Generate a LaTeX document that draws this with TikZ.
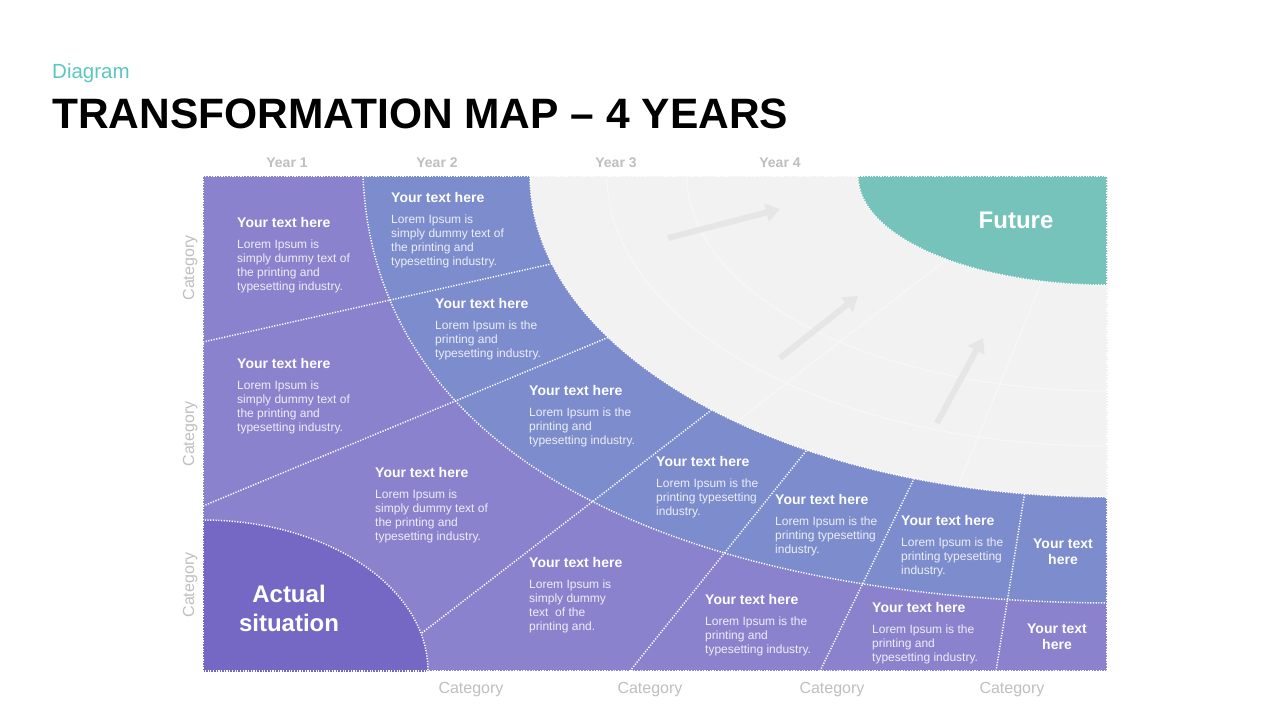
\documentclass[tikz,border=0pt]{standalone}
\usepackage{fontspec}
\setmainfont{Liberation Sans}
\usetikzlibrary{arrows.meta}
\definecolor{cpurple}{HTML}{8A82CC}
\definecolor{cblue}{HTML}{7C8CCC}
\definecolor{cact}{HTML}{7468C4}
\definecolor{cteal}{HTML}{76C3BB}
\definecolor{cgrey}{HTML}{F2F2F2}
\definecolor{carrow}{HTML}{E6E6E6}
\definecolor{clabel}{HTML}{BFBFBF}
\definecolor{cdiag}{HTML}{5BC8BF}
\definecolor{cbody}{HTML}{EEEEF8}
\newcommand\tblock[5]{%
  \node[hd, anchor=base west] (#1h) at (#2,#3) {#4};
  \foreach \ln [count=\i] in {#5} {\node[bd, anchor=base west] (#1l\i) at (#2,#3+7+14*\i) {\ln};}
}
\begin{document}
\begin{tikzpicture}[x=1pt,y=-1pt,
  dotline/.style={draw=white, line width=1.5pt, dash pattern=on 1.2pt off 1.5pt},
  gridline/.style={draw=white, line width=1pt, opacity=0.45},
  hd/.style={inner sep=0pt, text=white, font=\bfseries\fontsize{14}{16}\selectfont},
  bd/.style={inner sep=0pt, text=cbody, font=\fontsize{12}{14}\selectfont},
  big/.style={inner sep=0pt, text=white, align=center, font=\bfseries\fontsize{24}{29}\selectfont},
  small/.style={inner sep=0pt, text=white, align=center, font=\bfseries\fontsize{14}{16}\selectfont},
  yearlab/.style={inner sep=0pt, text=clabel, font=\bfseries\fontsize{14}{16}\selectfont},
  catlab/.style={inner sep=0pt, text=clabel, font=\fontsize{16}{18}\selectfont},
  deco/.style={draw=carrow, line width=6pt, -{Triangle[width=18pt,length=14pt]}}
]
\useasboundingbox (0,0) rectangle (1280,720);
\fill[white] (0,0) rectangle (1280,720);

% title
\node[anchor=base west, inner sep=0pt, text=cdiag, font=\fontsize{20.5}{24}\selectfont] (diag) at (52,78) {Diagram};
\node[anchor=base west, inner sep=0pt, font=\bfseries\fontsize{42.5}{48}\selectfont] (title) at (52,128) {TRANSFORMATION MAP – 4 YEARS};

\coordinate (NW) at (203,176);
\coordinate (NE) at (1107,176);
\coordinate (SW) at (203,671);
\coordinate (SE) at (1107,671);

\begin{scope}
  \clip (NW) rectangle (SE);
  \fill[cpurple] (NW) rectangle (SE);
  \fill[cblue] (363,176) .. controls (375,470) and (700,600) .. (1107,603) -- (NE) -- cycle;
  % separators
  \coordinate (s2a) at (203,342);  \coordinate (s2b) at (600,253);
  \coordinate (s3a) at (203,506);  \coordinate (s3b) at (650,320);
  \coordinate (s4a) at (392,656);  \coordinate (s4b) at (740,388);
  \coordinate (s5a) at (630,671);  \coordinate (s5b) at (830,421);
  \coordinate (s6a) at (820,671);  \coordinate (s6b) at (930,446);
  \coordinate (s7a) at (996,671);  \coordinate (s7b) at (1030,460);
  \draw[dotline] (s2a) -- (s2b);
  \draw[dotline] (s3a) -- (s3b);
  \draw[dotline] (s4a) -- (s4b);
  \draw[dotline] (s5a) -- (s5b);
  \draw[dotline] (s6a) -- (s6b);
  \draw[dotline] (s7a) -- (s7b);
  \draw[dotline] (363,176) .. controls (375,470) and (700,600) .. (1107,603);
  % actual situation
  \fill[cact] (SW) ellipse [x radius=225, y radius=151];
  \draw[dotline] (SW) ellipse [x radius=225, y radius=151];
  % grey future zone
  \fill[cgrey] (NE) ellipse [x radius=577, y radius=321];
  \draw[gridline] (NE) ellipse [x radius=420, y radius=215];
  \draw[gridline] (NE) ellipse [x radius=500, y radius=270];
  \draw[gridline] (1042,281) -- (958,486);
  \draw[gridline] (947,259) -- (736,422);
  \draw[dotline] (NE) ellipse [x radius=577, y radius=321];
  % teal
  \fill[cteal] (NE) ellipse [x radius=249, y radius=109];
  \draw[dotline] (NE) ellipse [x radius=249, y radius=109];
\end{scope}
\draw[dotline] (NW) rectangle (SE);

% decorative arrows
\coordinate (a1s) at (668,238); \coordinate (a1e) at (780,209);
\coordinate (a2s) at (780,358); \coordinate (a2e) at (858,296);
\coordinate (a3s) at (937,423); \coordinate (a3e) at (983,338);
\draw[deco] (a1s) -- (a1e);
\draw[deco] (a2s) -- (a2e);
\draw[deco] (a3s) -- (a3e);

% labels
\node[big] (future) at (1016,220) {Future};
\node[big] (actual) at (289,608) {Actual\\situation};

\node[yearlab, anchor=base] (y1) at (287,167) {Year 1};
\node[yearlab, anchor=base] (y2) at (437,167) {Year 2};
\node[yearlab, anchor=base] (y3) at (616,167) {Year 3};
\node[yearlab, anchor=base] (y4) at (780,167) {Year 4};

\node[catlab, anchor=base] (c1) at (471,693) {Category};
\node[catlab, anchor=base] (c2) at (650,693) {Category};
\node[catlab, anchor=base] (c3) at (832,693) {Category};
\node[catlab, anchor=base] (c4) at (1012,693) {Category};
\node[catlab, anchor=base, rotate=90] (r1) at (194,268) {Category};
\node[catlab, anchor=base, rotate=90] (r2) at (194,434) {Category};
\node[catlab, anchor=base, rotate=90] (r3) at (194,585) {Category};

% text cells
\tblock{A}{237}{227}{Your text here}{Lorem Ipsum is, simply dummy text of, the printing and, typesetting industry.}
\tblock{B}{391}{202}{Your text here}{Lorem Ipsum is, simply dummy text of, the printing and, typesetting industry.}
\tblock{C}{435}{308}{Your text here}{Lorem Ipsum is the, printing and, typesetting industry.}
\tblock{D}{237}{368}{Your text here}{Lorem Ipsum is, simply dummy text of, the printing and, typesetting industry.}
\tblock{E}{529}{395}{Your text here}{Lorem Ipsum is the, printing and, typesetting industry.}
\tblock{F}{375}{477}{Your text here}{Lorem Ipsum is, simply dummy text of, the printing and, typesetting industry.}
\tblock{G}{656}{466}{Your text here}{Lorem Ipsum is the, printing typesetting, industry.}
\tblock{H}{775}{504}{Your text here}{Lorem Ipsum is the, printing typesetting, industry.}
\tblock{I}{901}{525}{Your text here}{Lorem Ipsum is the, printing typesetting, industry.}
\tblock{K}{529}{567}{Your text here}{Lorem Ipsum is, simply dummy, text\ \ of the, printing and.}
\tblock{L}{705}{604}{Your text here}{Lorem Ipsum is the, printing and, typesetting industry.}
\tblock{M}{872}{612}{Your text here}{Lorem Ipsum is the, printing and, typesetting industry.}
\node[small] (J) at (1063,552) {Your text\\here};
\node[small] (N) at (1057,637) {Your text\\here};
\end{tikzpicture}
\end{document}
